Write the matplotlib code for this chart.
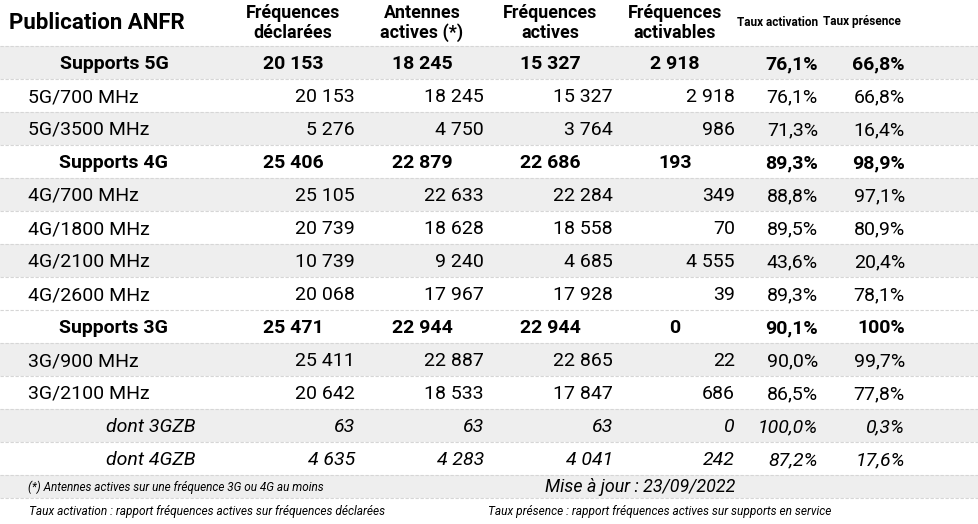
import matplotlib
matplotlib.use('Agg')
import matplotlib.pyplot as plt
import matplotlib.patches as mpatches

plt.rcParams['font.family'] = ['Roboto', 'DejaVu Sans']

# données ANFR (mise à jour 23/09/2022)
labels = ['Supports 5G', '5G/700 MHz', '5G/3500 MHz',
          'Supports 4G', '4G/700 MHz', '4G/1800 MHz', '4G/2100 MHz', '4G/2600 MHz',
          'Supports 3G', '3G/900 MHz', '3G/2100 MHz',
          'dont 3GZB', 'dont 4GZB']
kinds = ['group', 'sub', 'sub',
         'group', 'sub', 'sub', 'sub', 'sub',
         'group', 'sub', 'sub',
         'zb', 'zb']
freq_declarees = [20153, 20153, 5276, 25406, 25105, 20739, 10739, 20068, 25471, 25411, 20642, 63, 4635]
antennes_actives = [18245, 18245, 4750, 22879, 22633, 18628, 9240, 17967, 22944, 22887, 18533, 63, 4283]
freq_actives = [15327, 15327, 3764, 22686, 22284, 18558, 4685, 17928, 22944, 22865, 17847, 63, 4041]
freq_activables = [2918, 2918, 986, 193, 349, 70, 4555, 39, 0, 22, 686, 0, 242]
taux_activation = ['76,1%', '76,1%', '71,3%', '89,3%', '88,8%', '89,5%', '43,6%', '89,3%',
                   '90,1%', '90,0%', '86,5%', '100,0%', '87,2%']
taux_presence = ['66,8%', '66,8%', '16,4%', '98,9%', '97,1%', '80,9%', '20,4%', '78,1%',
                 '100%', '99,7%', '77,8%', '0,3%', '17,6%']

headers = [('Fréquences', 'déclarées'), ('Antennes', 'actives (*)'),
           ('Fréquences', 'actives'), ('Fréquences', 'activables')]
note_antennes = '(*) Antennes actives sur une fréquence 3G ou 4G au moins'
maj = 'Mise à jour : 23/09/2022'
note_activation = 'Taux activation : rapport fréquences actives sur fréquences déclarées'
note_presence = 'Taux présence : rapport fréquences actives sur supports en service'

# lignes grisées (alternance du tableau d'origine)
gray_rows = [0, 2, 4, 6, 9, 11]

W, H = 979, 524
fig = plt.figure(figsize=(W / 100, H / 100), dpi=100)
ax = fig.add_axes([0, 0, 1, 1])
ax.set_xlim(0, W)
ax.set_ylim(H, 0)
ax.axis('off')

GRAY = '#eeeeee'
LINE = '#d6d6d6'
TXT = '#000000'
FS = 14.0
FS_HEAD = 12.9

narrow = ['Liberation Sans Narrow', 'Roboto', 'DejaVu Sans']

# ── en-tête ──
ax.text(9, 23, 'Publication ANFR', fontsize=16.0, fontweight='bold', ha='left', va='center', color=TXT)
col_center = [293, 422, 550, 675]
col_right = [355, 484, 613, 735]
for cx, (l1, l2) in zip(col_center, headers):
    ax.text(cx, 13, l1, fontsize=FS_HEAD, fontweight='bold', ha='center', va='center', color=TXT)
    ax.text(cx, 33, l2, fontsize=FS_HEAD, fontweight='bold', ha='center', va='center', color=TXT)
ax.text(778, 22, 'Taux activation', fontsize=8.5, fontweight='bold', ha='center', va='center',
        family=narrow, color=TXT)
ax.text(862, 22, 'Taux présence', fontsize=8.5, fontweight='bold', ha='center', va='center',
        family=narrow, color=TXT)

# ── corps ──
top = 46
row_h = 33.0
pct_right = [818, 905]


def fmt(v):
    return f'{v:,}'.replace(',', ' ')


for i, lab in enumerate(labels):
    y0 = top + i * row_h
    yc = y0 + row_h / 2 + 1.5
    if i in gray_rows:
        ax.add_patch(mpatches.Rectangle((0, y0), W, row_h, facecolor=GRAY, edgecolor='none', zorder=0))
    ax.plot([0, W], [y0, y0], color=LINE, lw=0.8, ls=(0, (3, 1.5)), zorder=1)

    kind = kinds[i]
    vals = [freq_declarees[i], antennes_actives[i], freq_actives[i], freq_activables[i]]
    pcts = [taux_activation[i], taux_presence[i]]
    if kind == 'group':
        ax.text(114, yc, lab, fontsize=FS, fontweight='bold', ha='center', va='center', color=TXT)
        for cx, v in zip(col_center, vals):
            ax.text(cx, yc, fmt(v), fontsize=FS, fontweight='bold', ha='center', va='center', color=TXT)
        for rx, p in zip(pct_right, pcts):
            ax.text(rx, yc, p, fontsize=FS, fontweight='bold', ha='right', va='center', color=TXT)
    else:
        style = 'italic' if kind == 'zb' else 'normal'
        if kind == 'zb':
            ax.text(196, yc, lab, fontsize=FS, style=style, ha='right', va='center', color=TXT)
        else:
            ax.text(28, yc, lab, fontsize=FS, ha='left', va='center', color=TXT)
        for rx, v in zip(col_right, vals):
            ax.text(rx, yc, fmt(v), fontsize=FS, style=style, ha='right', va='center', color=TXT)
        for rx, p in zip(pct_right, pcts):
            ax.text(rx, yc, p, fontsize=FS, style=style, ha='right', va='center', color=TXT)

# ── pied ──
y_foot = top + len(labels) * row_h
foot_h = 23
ax.add_patch(mpatches.Rectangle((0, y_foot), W, foot_h, facecolor=GRAY, edgecolor='none', zorder=0))
ax.plot([0, W], [y_foot, y_foot], color=LINE, lw=0.8, ls=(0, (3, 1.5)), zorder=1)
ax.plot([0, W], [y_foot + foot_h, y_foot + foot_h], color=LINE, lw=0.8, ls=(0, (3, 1.5)), zorder=1)
ax.text(28, y_foot + foot_h / 2 + 0.5, note_antennes, fontsize=8.5, style='italic', ha='left', va='center',
        family=narrow, color=TXT)
ax.text(735, y_foot + foot_h / 2 + 1, maj, fontsize=12.9, style='italic', ha='right', va='center', color=TXT)

y_last = y_foot + foot_h + 13
ax.text(29, y_last, note_activation, fontsize=8.6, style='italic', ha='left', va='center',
        family=narrow, color=TXT)
ax.text(488, y_last, note_presence, fontsize=8.6, style='italic', ha='left', va='center',
        family=narrow, color=TXT)

fig.savefig('out.png', dpi=100, facecolor='white')
